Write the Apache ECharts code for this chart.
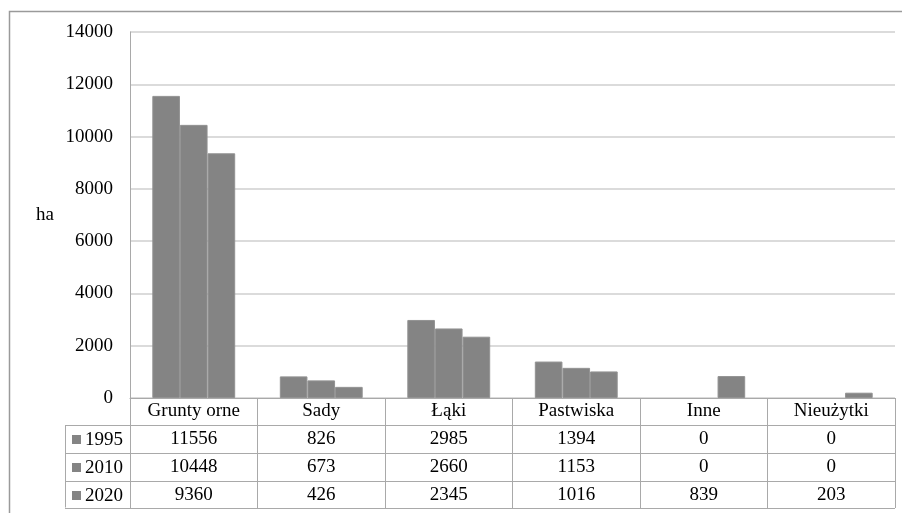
<!DOCTYPE html>
<html>
<head>
<meta charset="utf-8">
<script src="https://cdn.jsdelivr.net/npm/echarts@6/dist/echarts.min.js"></script>
<style>
  html, body { margin: 0; padding: 0; background: #fff; }
  #chart { width: 902px; height: 513px; }
</style>
</head>
<body>
<div id="chart"></div>
<script>
// Land use categories (ha) and values per year
const categories = ['Grunty orne', 'Sady', 'Łąki', 'Pastwiska', 'Inne', 'Nieużytki'];
const years = ['1995', '2010', '2020'];
const values1995 = [11556, 826, 2985, 1394, 0, 0];
const values2010 = [10448, 673, 2660, 1153, 0, 0];
const values2020 = [9360, 426, 2345, 1016, 839, 203];
const yTicks = [0, 2000, 4000, 6000, 8000, 10000, 12000, 14000];
const seriesValues = [values1995, values2010, values2020];

const FONT = '"Liberation Serif", "Times New Roman", serif';
const FS = 19;
const BAR = '#848484';
const LINE = '#a9a9a9';

// layout
const plotLeft = 130, plotRight = 895, plotTop = 32, plotBottom = 398;
const rowH = 28;
const tableLeft = 65;
const tableBottom = plotBottom + rowH * 4 - 1;

const chart = echarts.init(document.getElementById('chart'));

const graphics = [];
// outer frame
graphics.push({
  type: 'rect', shape: { x: 9.5, y: 11.5, width: 1000, height: 1000 },
  style: { fill: 'none', stroke: '#9a9a9a', lineWidth: 1.5 }, silent: true
});
// horizontal table rules
for (let r = 1; r <= 4; r++) {
  const y = plotBottom + rowH * r - 0.5 - (r === 4 ? 1 : 0);
  graphics.push({
    type: 'line', shape: { x1: tableLeft, y1: y, x2: plotRight, y2: y },
    style: { stroke: LINE, lineWidth: 1 }, silent: true
  });
}
// left edge of the legend column
graphics.push({
  type: 'line', shape: { x1: tableLeft + 0.5, y1: plotBottom + rowH - 0.5, x2: tableLeft + 0.5, y2: tableBottom - 1.5 },
  style: { stroke: LINE, lineWidth: 1 }, silent: true
});
// legend keys in the table
years.forEach((yr, i) => {
  const cy = plotBottom + rowH * (i + 1) + rowH / 2;
  graphics.push({
    type: 'rect', shape: { x: 72, y: cy - 5, width: 9, height: 9 },
    style: { fill: BAR }, silent: true
  });
  graphics.push({
    type: 'text', x: 85, y: cy,
    style: { text: yr, font: FS + 'px ' + FONT, fill: '#000', textVerticalAlign: 'middle' },
    silent: true
  });
});

const option = {
  animation: false,
  backgroundColor: '#fff',
  grid: { left: plotLeft, right: 902 - plotRight, top: plotTop, bottom: 513 - plotBottom, containLabel: false },
  xAxis: {
    type: 'category',
    data: categories,
    axisLine: { lineStyle: { color: LINE, width: 1 } },
    axisTick: { show: true, length: tableBottom - plotBottom - 1, lineStyle: { color: LINE } },
    axisLabel: {
      margin: -1,
      interval: 0,
      formatter: (name, idx) => {
        const lines = [name].concat(seriesValues.map(v => String(v[idx])));
        return lines.map(s => '{c|' + s + '}').join('\n');
      },
      rich: {
        c: { fontFamily: FONT, fontSize: FS, color: '#000', lineHeight: rowH, height: rowH, align: 'center' }
      }
    },
    splitLine: { show: false }
  },
  yAxis: {
    type: 'value',
    min: 0, max: 14000, interval: 2000,
    name: 'ha',
    nameLocation: 'middle',
    nameRotate: 0,
    nameGap: 76,
    nameTextStyle: { fontFamily: FONT, fontSize: FS, color: '#000' },
    axisLine: { show: true, lineStyle: { color: LINE } },
    axisTick: { show: false },
    axisLabel: {
      margin: 17,
      fontFamily: FONT, fontSize: FS, color: '#000',
      formatter: v => yTicks.includes(v) ? String(v) : ''
    },
    splitLine: { lineStyle: { color: '#cfcfcf', width: 1.5 } }
  },
  series: years.map((yr, i) => ({
    name: yr,
    type: 'bar',
    data: seriesValues[i].map(v => v === 0
      ? { value: v, itemStyle: { borderWidth: 0, opacity: 0 } }
      : v),
    barGap: '0%',
    barCategoryGap: '35%',
    itemStyle: { color: BAR, borderColor: '#929292', borderWidth: 1 }
  })),
  graphic: graphics
};

chart.setOption(option);
</script>
</body>
</html>
